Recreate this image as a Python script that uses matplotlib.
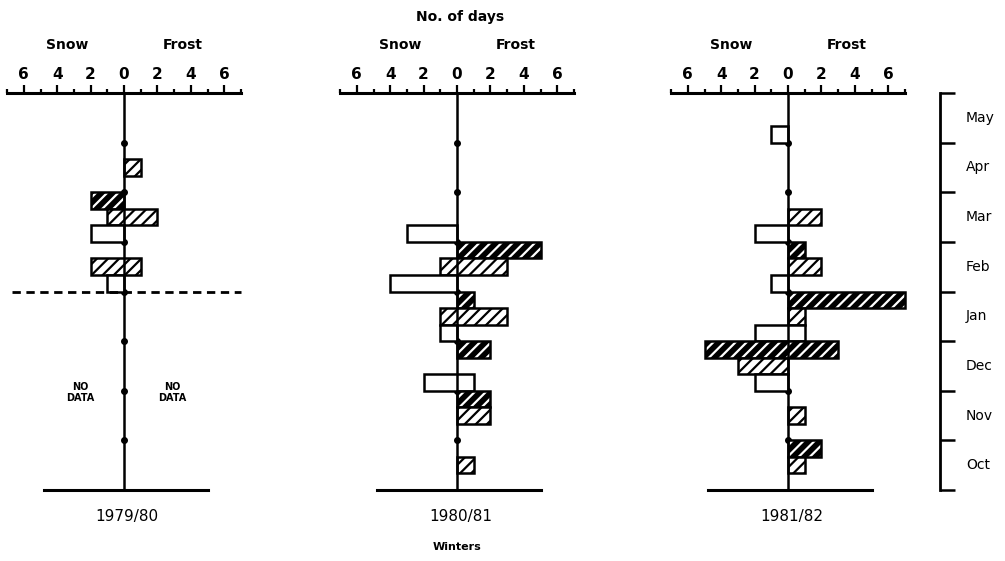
import numpy as np
import matplotlib.pyplot as plt
from matplotlib.transforms import blended_transform_factory

nan = np.nan

months = ['May', 'Apr', 'Mar', 'Feb', 'Jan', 'Dec', 'Nov', 'Oct']
winters = ['1979/80', '1980/81', '1981/82']
tick_vals = [-6, -4, -2, 0, 2, 4, 6]

# days per ten-day period, months top (May) to bottom (Oct), 3 periods each
snow_1979 = [[0, 0, 0], [0, 0, 0], [2, 1, 2], [0, 2, 1],
             [nan] * 3, [nan] * 3, [nan] * 3, [nan] * 3]
frost_1979 = [[0, 0, 0], [0, 1, 0], [0, 2, 0], [0, 1, 0],
              [nan] * 3, [nan] * 3, [nan] * 3, [nan] * 3]

snow_1980 = [[0, 0, 0], [0, 0, 0], [0, 0, 3], [0, 1, 4],
             [0, 1, 1], [0, 0, 2], [0, 0, 0], [0, 0, 0]]
frost_1980 = [[0, 0, 0], [0, 0, 0], [0, 0, 0], [5, 3, 0],
              [1, 3, 0], [2, 0, 1], [2, 2, 0], [0, 1, 0]]

snow_1981 = [[0, 0, 1], [0, 0, 0], [0, 0, 2], [0, 0, 1],
             [0, 0, 2], [5, 3, 2], [0, 0, 0], [0, 0, 0]]
frost_1981 = [[0, 0, 0], [0, 0, 0], [0, 2, 0], [1, 2, 0],
              [7, 1, 1], [3, 0, 0], [0, 1, 0], [2, 1, 0]]

snow_all = [snow_1979, snow_1980, snow_1981]
frost_all = [frost_1979, frost_1980, frost_1981]

plt.rcParams['font.family'] = 'DejaVu Sans'
plt.rcParams['hatch.linewidth'] = 1.6

W, H = 1005, 561
fig = plt.figure(figsize=(W / 100, H / 100), dpi=100)

top_px, bot_px = 93, 490
b = (H - bot_px) / H
h = (bot_px - top_px) / H
centres = [124, 457, 788]
px_per_day = 16.7
half = 7.3
lw = 1.8

for p in range(3):
    left = (centres[p] - half * px_per_day) / W
    ax = fig.add_axes([left, b, 2 * half * px_per_day / W, h])
    ax.set_xlim(-half, half)
    ax.set_ylim(24, 0)
    for sp in ['left', 'right', 'bottom']:
        ax.spines[sp].set_visible(False)
    ax.spines['top'].set_bounds(-7, 7)
    ax.spines['top'].set_linewidth(2.2)
    ax.xaxis.set_ticks_position('top')
    ax.set_xticks(tick_vals)
    ax.set_xticklabels([str(abs(v)) for v in tick_vals], fontsize=11, fontweight='bold')
    ax.set_xticks(range(-7, 8, 2), minor=True)
    ax.tick_params(which='major', length=6, width=1.6, pad=2)
    ax.tick_params(which='minor', length=3, width=1.6)
    ax.set_yticks([])

    snow = snow_all[p]
    frost = frost_all[p]
    for m in range(len(months)):
        for d in range(3):
            s = snow[m][d]
            f = frost[m][d]
            if np.isnan(s) or s + f == 0:
                continue
            y = 3 * m + d + 0.5
            if d == 0:
                ax.barh(y, s + f, left=-s, height=1, color='black', zorder=2)
                ax.barh(y, s + f, left=-s, height=1, facecolor='none',
                        edgecolor='white', hatch='///', linewidth=0, zorder=2)
                ax.barh(y, s + f, left=-s, height=1, fill=False,
                        edgecolor='black', linewidth=lw, zorder=2)
            elif d == 1:
                ax.barh(y, s + f, left=-s, height=1, facecolor='white',
                        edgecolor='black', hatch='///', linewidth=lw, zorder=2)
            else:
                ax.barh(y, s + f, left=-s, height=1, facecolor='white',
                        edgecolor='black', linewidth=lw, zorder=2)

    # centre line with month dots, bottom base line
    ax.plot([0, 0], [0, 24], color='black', lw=lw, zorder=3, clip_on=False)
    ax.plot([0] * 7, range(3, 24, 3), 'o', color='black', ms=4, zorder=1)
    ax.plot([-4.8, 5], [24, 24], color='black', lw=2.2, clip_on=False)

    tf = blended_transform_factory(ax.transData, fig.transFigure)
    ax.text(-3.4, 1 - 45 / H, 'Snow', transform=tf, ha='center', va='center',
            fontsize=10, fontweight='bold')
    ax.text(3.5, 1 - 45 / H, 'Frost', transform=tf, ha='center', va='center',
            fontsize=10, fontweight='bold')
    ax.text(0.2, 1 - 517 / H, winters[p], transform=tf, ha='center', va='center',
            fontsize=11)

    if p == 0:
        ax.plot([-6.7, 7], [12, 12], color='black', lw=2,
                linestyle=(0, (3, 2)), clip_on=False)
        ax.text(-2.6, 18.1, 'NO\nDATA', ha='center', va='center',
                fontsize=7, fontweight='bold', linespacing=1.1)
        ax.text(2.9, 18.1, 'NO\nDATA', ha='center', va='center',
                fontsize=7, fontweight='bold', linespacing=1.1)

fig.text(460 / W, 1 - 17 / H, 'No. of days', ha='center', va='center',
         fontsize=10, fontweight='bold')
fig.text(457 / W, 1 - 547 / H, 'Winters', ha='center', va='center',
         fontsize=8, fontweight='bold')

# month scale on the right
axm = fig.add_axes([940 / W, b, 50 / W, h])
axm.set_ylim(len(months), 0)
axm.set_xlim(0, 1)
for sp in ['top', 'right', 'bottom']:
    axm.spines[sp].set_visible(False)
axm.spines['left'].set_linewidth(2)
axm.set_yticks(range(len(months) + 1))
axm.set_yticklabels([])
axm.tick_params(axis='y', direction='in', length=11, width=1.8)
axm.set_xticks([])
for m, name in enumerate(months):
    axm.text(0.52, m + 0.5, name, ha='left', va='center', fontsize=10)

plt.savefig('out.png', dpi=100)
plt.close()
